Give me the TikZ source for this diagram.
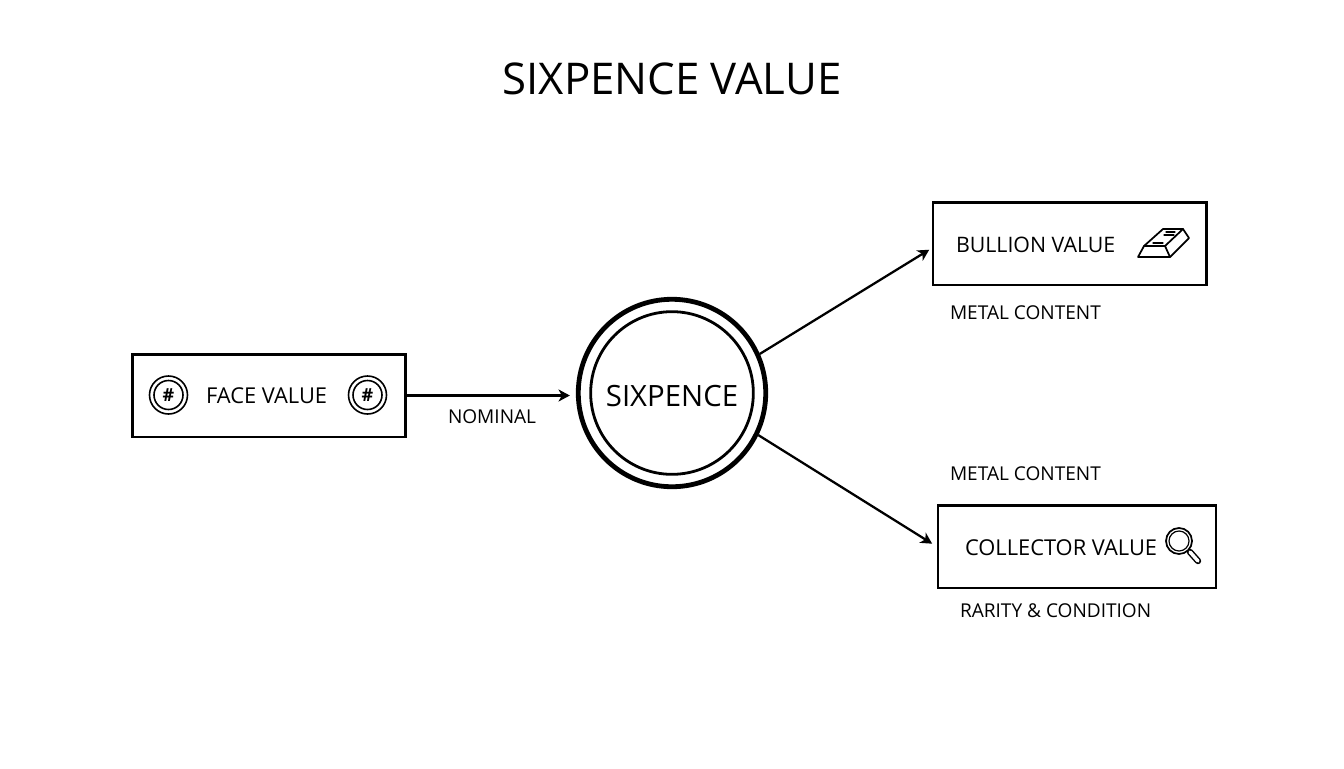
\documentclass[tikz,border=0pt]{standalone}
\usepackage{fontspec}
\setmainfont{Open Sans}
\usetikzlibrary{arrows.meta}
\tikzset{every picture/.style={line width=0.75pt}}
\tikzset{
  valuebox/.style={draw,line width=2pt,minimum width=205pt,minimum height=62pt,inner sep=0pt},
  smalltext/.style={anchor=base west,inner sep=0pt,font=\fontsize{14.3}{17}\selectfont},
  boxtext/.style={anchor=base west,inner sep=0pt,font=\fontsize{16.4}{20}\selectfont},
  arrowline/.style={line width=1.7pt,-{Stealth[length=8.5pt,width=9pt,inset=2.5pt]}},
  coinicon/.style={draw,circle,line width=1.2pt,minimum size=28.5pt,inner sep=0pt,font=\bfseries\fontsize{13.5}{14}\selectfont},
  iconline/.style={line width=1.3pt,line join=round,line cap=round}
}
\begin{document}
\begin{tikzpicture}[x=0.75pt,y=0.75pt,yscale=-1,xscale=1]
\useasboundingbox (0,0) rectangle (1344,768);

% Text Node
\node (title) [anchor=base,inner sep=0pt,font=\fontsize{32.8}{40}\selectfont] at (672,94) {SIXPENCE VALUE};

%Shape: Circle
\node (coin) [draw,circle,line width=3.6pt,minimum size=140.6pt,inner sep=0pt] at (672,393) {};
\node (coinin) [draw,circle,line width=2.1pt,minimum size=122pt,inner sep=0pt] at (672,393) {};
\node (sixpence) [anchor=base,inner sep=0pt,font=\fontsize{22}{26}\selectfont] at (672,406) {SIXPENCE};

%Shape: Rectangle
\node (face) [valuebox] at (269,395.5) {};
\node (bullion) [valuebox] at (1069.5,243.5) {};
\node (collector) [valuebox,minimum width=208.5pt] at (1077,546.5) {};

% Text Node
\node (facetext) [boxtext] at (205.5,403) {FACE VALUE};
\node (bulliontext) [boxtext,font=\fontsize{16}{20}\selectfont] at (955.5,252) {BULLION VALUE};
\node (collectortext) [boxtext] at (964.5,555) {COLLECTOR VALUE};
\node (nominal) [smalltext] at (447.5,423) {NOMINAL};
\node (metalup) [smalltext] at (949.5,319) {METAL CONTENT};
\node (metaldown) [smalltext] at (949.5,480) {METAL CONTENT};
\node (rarity) [smalltext] at (959.5,617) {RARITY \& CONDITION};

%Shape: Circle
\node (faceleft) [coinicon] at (168.5,395) {\#};
\node (faceright) [coinicon] at (367.5,395) {\#};
\draw [line width=1.2pt] (faceleft) circle [radius=14.5];
\draw [line width=1.2pt] (faceright) circle [radius=14.5];

%Straight Lines
\draw [arrowline,shorten >=4.5pt] (face.east) -- (face.east -| coin.west);
\draw [arrowline,shorten >=2pt] (coin.24) -- (bullion.182.7);
\draw [arrowline,shorten >=4pt] (coin.-26) -- (collector.west);

%Shape: Bar
\draw [iconline] (1138,257) -- (1144,246) -- (1165,246) -- (1170,257) -- cycle;
\draw [iconline] (1144,246) -- (1163,229) -- (1183,229) -- (1165,246);
\draw [iconline] (1183,229) -- (1189,238) -- (1170,257);
\draw [iconline,line width=0.9pt] (1166,232) -- (1175,232);
\draw [iconline,line width=0.9pt] (1164,235) -- (1174,235);
\draw [iconline,line width=0.9pt] (1153,243) -- (1163,243);

%Shape: Magnifier
\draw [iconline] (1179,541) circle [radius=13];
\draw [line width=0.9pt] (1179,541) circle [radius=10];
\draw [line width=1.1pt,line cap=round,double=white,double distance=2.6pt] (1190,552) -- (1198,561);
\end{tikzpicture}
\end{document}
